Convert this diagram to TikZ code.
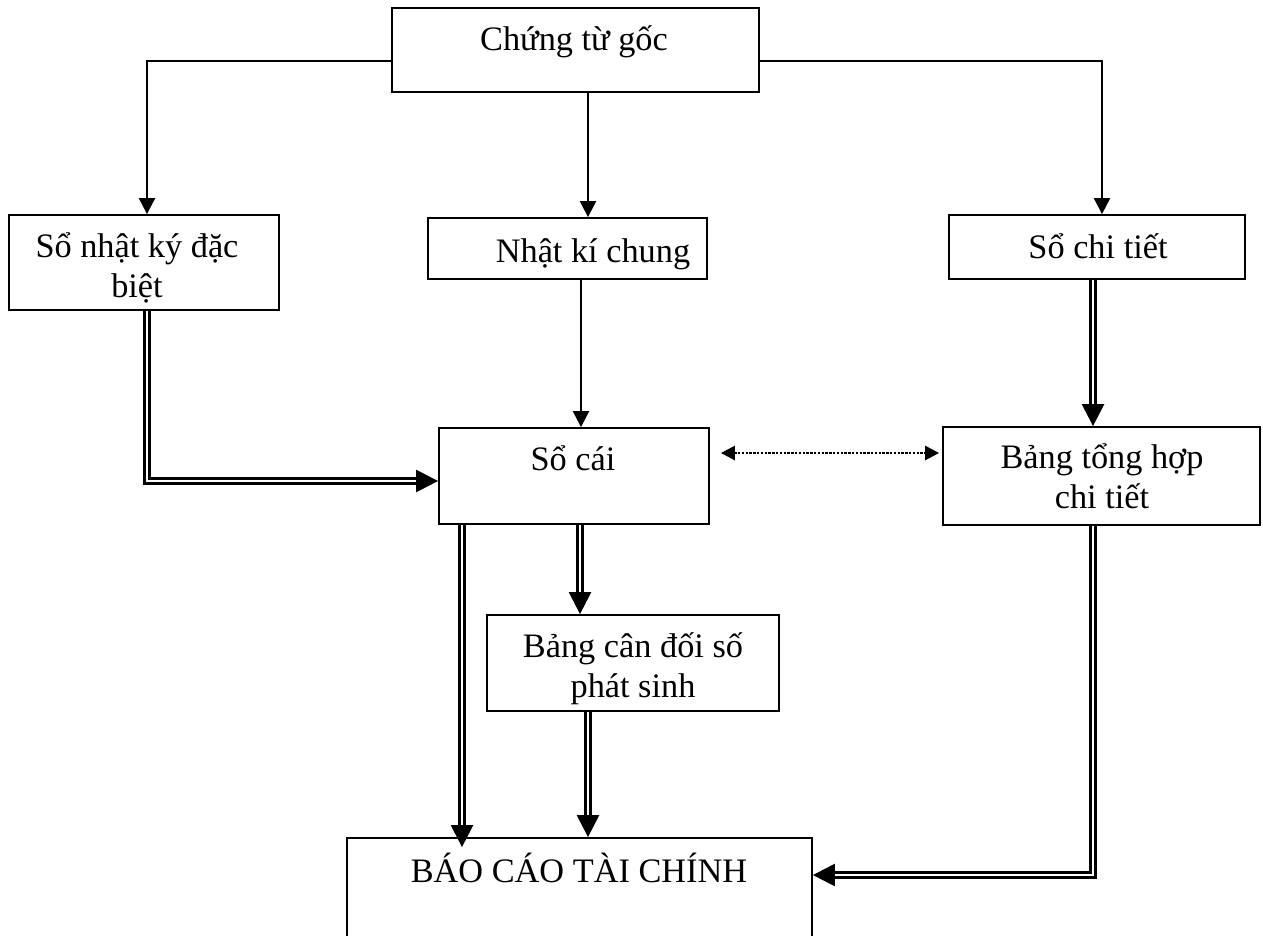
\documentclass[tikz,border=0pt]{standalone}
\usepackage{fontspec}
\setmainfont{Liberation Serif}
\usetikzlibrary{arrows.meta}
\begin{document}
\begin{tikzpicture}[x=1pt,y=-1pt,
  box/.style args={#1x#2}{draw, line width=1.8pt, inner sep=0pt, minimum width=#1pt, minimum height=#2pt},
  txt/.style={font=\fontsize{34.3}{40}\selectfont, inner sep=0pt, anchor=base, align=center},
  conn/.style={line width=2pt, -{Triangle[length=16pt,width=16pt]}},
  dbl/.style={double, line width=2.4pt, double distance=2.4pt, -{Triangle[length=22pt,width=22pt]}},
  dotarrow/.style={line width=2.6pt, dash pattern=on 2.4pt off 1.4pt, {Triangle[length=14pt,width=14pt]}-{Triangle[length=14pt,width=14pt]}}]
\useasboundingbox (0,0) rectangle (1263,935);
% boxes
\node[box=367x84] (goc) at (575.5,50) {};
\node[box=270x95] (snk) at (144,262.5) {};
\node[box=279x61] (nkc) at (567.5,248.5) {};
\node[box=296x64] (sct) at (1097,247) {};
\node[box=270x96] (socai) at (574,476) {};
\node[box=317x98] (bth) at (1101.5,476) {};
\node[box=292x96] (bcd) at (633,663) {};
\node[box=465x112] (bao) at (579.5,894) {};
% texts (base = baseline of the last line)
\node[txt] (tgoc) at (574,50) {Chứng từ gốc};
\node[txt] (tsnk) at (137,297) {Sổ nhật ký đặc\\biệt};
\node[txt] (tnkc) at (593,262) {Nhật kí chung};
\node[txt] (tsct) at (1098,258) {Sổ chi tiết};
\node[txt] (tsocai) at (573,470) {Sổ cái};
\node[txt] (tbth) at (1102,508) {Bảng tổng hợp\\chi tiết};
\node[txt] (tbcd) at (633,697) {Bảng cân đối số\\phát sinh};
\node[txt] (tbao) at (579,882) {BÁO CÁO TÀI CHÍNH};
% connectors
\draw[conn] ([yshift=-11pt]goc.west) -| ([xshift=3pt]snk.north);
\draw[conn] ([yshift=-11pt]goc.east) -| ([xshift=5pt]sct.north);
\draw[conn] ([xshift=12.5pt]goc.south) -- ([xshift=20.5pt]nkc.north);
\draw[conn] ([xshift=13.5pt]nkc.south) -- ([xshift=7pt]socai.north);
\draw[dbl] ([xshift=-4pt]sct.south) -- ([xshift=-8.5pt]bth.north);
\draw[dbl] ([xshift=3pt]snk.south) |- ([yshift=-5pt]socai.west);
\draw[dbl] ([xshift=6pt]socai.south) -- ([xshift=-53pt]bcd.north);
\draw[dbl] ([xshift=-112pt]socai.south) -- ([xshift=-117.5pt,yshift=-10pt]bao.north);
\draw[dbl] ([xshift=-45pt]bcd.south) -- ([xshift=8.5pt]bao.north);
\draw[dbl] ([xshift=-8.5pt]bth.south) |- ([yshift=19pt]bao.east);
\draw[dotarrow] ([xshift=11pt,yshift=23pt]socai.east) -- ([xshift=-3pt,yshift=23pt]bth.west);
\end{tikzpicture}
\end{document}
